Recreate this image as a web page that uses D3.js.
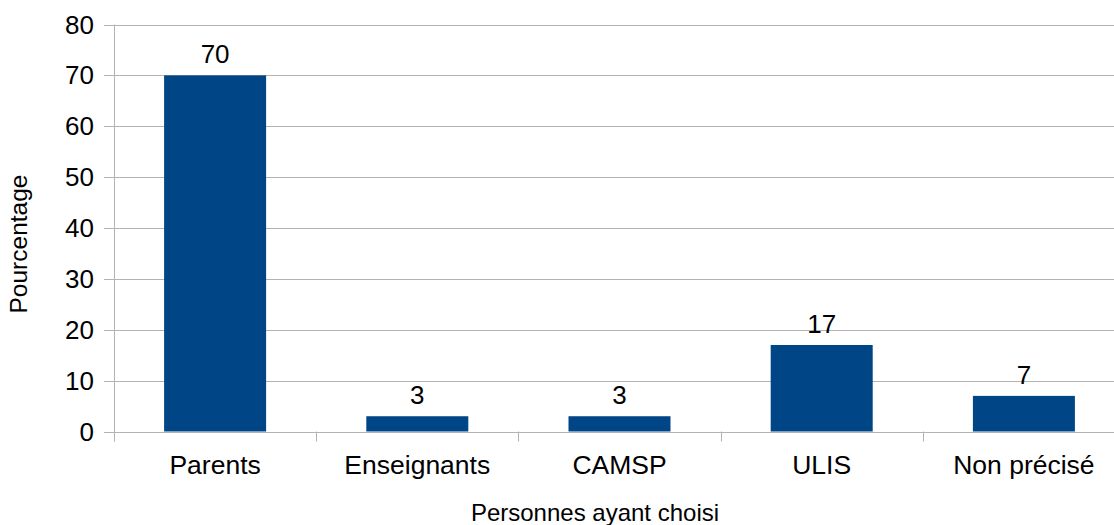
<!DOCTYPE html>
<html>
<head>
<meta charset="utf-8">
<script src="https://cdn.jsdelivr.net/npm/d3@7"></script>
<style>
html,body{margin:0;padding:0;background:#fff;}
svg{display:block;font-family:"Liberation Sans",Arial,sans-serif;}
</style>
</head>
<body>
<svg id="chart" width="1114" height="525"></svg>
<script>
const categories = ["Parents","Enseignants","CAMSP","ULIS","Non précisé"];
const values = [70,3,3,17,7];
const yTicks = [0,10,20,30,40,50,60,70,80];
const yTitle = "Pourcentage";
const xTitle = "Personnes ayant choisi";

const svg = d3.select("#chart");
const plotLeft = 114, plotRight = 1125, plotTop = 24.5, plotBottom = 431.5;

const x = d3.scaleBand().domain(categories).range([plotLeft, plotRight]).paddingInner(0).paddingOuter(0);
const y = d3.scaleLinear().domain([0,80]).range([plotBottom, plotTop]);

// gridlines
svg.append("g").selectAll("line").data(yTicks).join("line")
  .attr("x1", plotLeft - 10).attr("x2", plotRight)
  .attr("y1", d => Math.round(y(d)) + 0.5).attr("y2", d => Math.round(y(d)) + 0.5)
  .attr("stroke", "#b3b3b3").attr("stroke-width", 1);

// y axis line
svg.append("line").attr("x1", plotLeft + 0.5).attr("x2", plotLeft + 0.5)
  .attr("y1", y(80)).attr("y2", plotBottom + 10)
  .attr("stroke", "#b3b3b3");

// x category ticks
const bounds = categories.map(c => x(c)).concat([x(categories[categories.length-1]) + x.bandwidth()]);
svg.append("g").selectAll("line").data(bounds).join("line")
  .attr("x1", d => Math.round(d) + 0.5).attr("x2", d => Math.round(d) + 0.5)
  .attr("y1", plotBottom).attr("y2", plotBottom + 10)
  .attr("stroke", "#b3b3b3");

// y tick labels
svg.append("g").selectAll("text").data(yTicks).join("text")
  .attr("x", 94).attr("y", d => y(d) + 9)
  .attr("text-anchor", "end").attr("font-size", 26).attr("fill", "#000")
  .text(d => d);

// bars
const barW = 102;
svg.append("g").selectAll("rect").data(values).join("rect")
  .attr("x", (d,i) => x(categories[i]) + x.bandwidth()/2 - barW/2)
  .attr("width", barW)
  .attr("y", d => y(d))
  .attr("height", d => y(0) - y(d))
  .attr("fill", "#004586");

// value labels
svg.append("g").selectAll("text").data(values).join("text")
  .attr("x", (d,i) => x(categories[i]) + x.bandwidth()/2)
  .attr("y", d => y(d) - 12)
  .attr("text-anchor", "middle").attr("font-size", 26).attr("fill", "#000")
  .text(d => d);

// category labels
svg.append("g").selectAll("text").data(categories).join("text")
  .attr("x", d => x(d) + x.bandwidth()/2)
  .attr("y", 474)
  .attr("text-anchor", "middle").attr("font-size", 26.5).attr("fill", "#000")
  .text(d => d);

// axis titles
svg.append("text").attr("x", 595).attr("y", 521)
  .attr("text-anchor", "middle").attr("font-size", 24).attr("fill", "#000")
  .text(xTitle);
svg.append("text").attr("transform", "translate(27,244) rotate(-90)")
  .attr("text-anchor", "middle").attr("font-size", 24.5).attr("fill", "#000")
  .text(yTitle);
</script>
</body>
</html>
